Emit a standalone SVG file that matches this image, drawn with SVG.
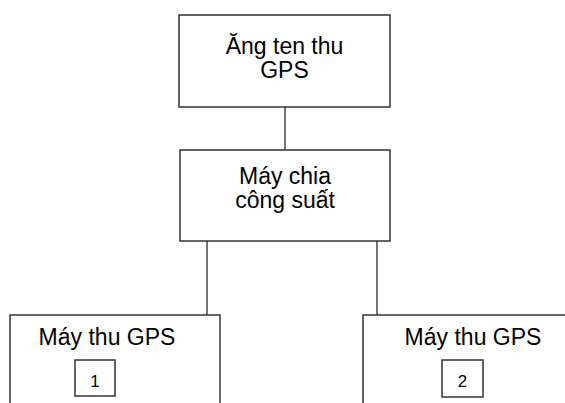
<svg xmlns="http://www.w3.org/2000/svg" width="565" height="403" viewBox="0 0 565 403">
<style>
.box{fill:#fff;stroke:#333;stroke-width:1.5}
.lnk{stroke:#444;stroke-width:1.5;fill:none}
.t{font-family:"Liberation Sans",Arial,sans-serif;font-size:23px;fill:#000;text-anchor:middle}
.n{font-family:"Liberation Sans",Arial,sans-serif;font-size:17px;fill:#000;text-anchor:middle}
</style>
<rect width="565" height="403" fill="#fff"/>
<g id="connectors">
<line class="lnk" x1="285" y1="107" x2="285" y2="150"/>
<line class="lnk" x1="207" y1="236" x2="207" y2="315"/>
<line class="lnk" x1="377" y1="236" x2="377" y2="315"/>
</g>
<g id="antenna">
<rect class="box" x="179" y="15" width="211" height="92"/>
<text class="t" x="284.5" y="54">Ăng ten thu</text>
<text class="t" x="284.5" y="78">GPS</text>
</g>
<g id="splitter">
<rect class="box" x="180" y="150" width="210" height="91"/>
<text class="t" x="285" y="184">Máy chia</text>
<text class="t" x="285" y="208">công suất</text>
</g>
<g id="receiver1">
<rect class="box" x="10" y="315" width="210" height="100"/>
<text class="t" x="107" y="345">Máy thu GPS</text>
<rect class="box" x="75" y="360" width="40" height="36"/>
<text class="n" x="95" y="387">1</text>
</g>
<g id="receiver2">
<rect class="box" x="363" y="315" width="220" height="100"/>
<text class="t" x="473" y="345">Máy thu GPS</text>
<rect class="box" x="442" y="360" width="41" height="37"/>
<text class="n" x="462.5" y="387">2</text>
</g>
</svg>
